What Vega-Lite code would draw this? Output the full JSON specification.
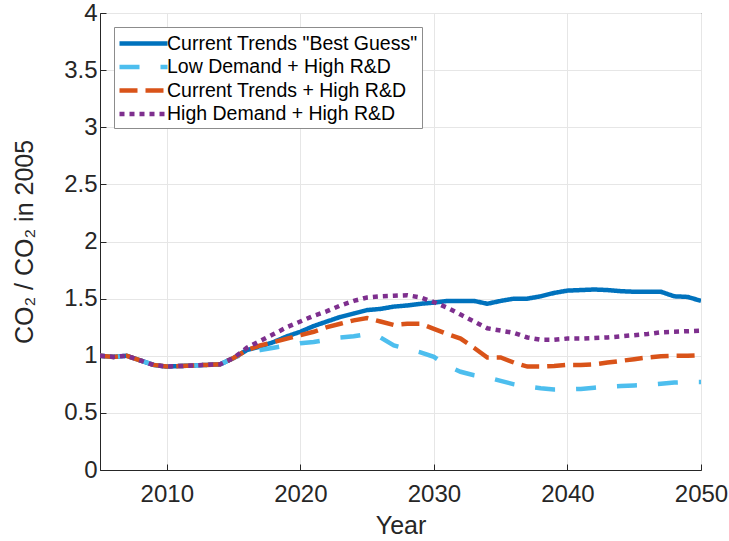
{
  "$schema": "https://vega.github.io/schema/vega-lite/v6.json",
  "width": 601,
  "height": 457,
  "autosize": {"type": "none"},
  "padding": {"left": 100, "top": 13, "right": 28, "bottom": 71},
  "background": "white",
  "config": {
    "font": "Liberation Sans",
    "view": {"stroke": "#262626", "strokeWidth": 1},
    "axis": {
      "domainColor": "#262626",
      "tickColor": "#262626",
      "gridColor": "#e6e6e6",
      "gridWidth": 1,
      "labelColor": "#262626",
      "titleColor": "#262626",
      "labelFont": "Liberation Sans",
      "titleFont": "Liberation Sans",
      "labelFontSize": 24,
      "titleFontSize": 25,
      "titleFontWeight": "normal",
      "tickSize": -6
    }
  },
  "data": {"values": [
    {"year": 2005, "s": "Current Trends \"Best Guess\"", "v": 1.00},
    {"year": 2006, "s": "Current Trends \"Best Guess\"", "v": 0.99},
    {"year": 2007, "s": "Current Trends \"Best Guess\"", "v": 1.00},
    {"year": 2008, "s": "Current Trends \"Best Guess\"", "v": 0.96},
    {"year": 2009, "s": "Current Trends \"Best Guess\"", "v": 0.92},
    {"year": 2010, "s": "Current Trends \"Best Guess\"", "v": 0.905},
    {"year": 2011, "s": "Current Trends \"Best Guess\"", "v": 0.91},
    {"year": 2012, "s": "Current Trends \"Best Guess\"", "v": 0.915},
    {"year": 2013, "s": "Current Trends \"Best Guess\"", "v": 0.92},
    {"year": 2014, "s": "Current Trends \"Best Guess\"", "v": 0.925},
    {"year": 2015, "s": "Current Trends \"Best Guess\"", "v": 0.98},
    {"year": 2016, "s": "Current Trends \"Best Guess\"", "v": 1.05},
    {"year": 2017, "s": "Current Trends \"Best Guess\"", "v": 1.08},
    {"year": 2018, "s": "Current Trends \"Best Guess\"", "v": 1.12},
    {"year": 2019, "s": "Current Trends \"Best Guess\"", "v": 1.17},
    {"year": 2020, "s": "Current Trends \"Best Guess\"", "v": 1.21},
    {"year": 2021, "s": "Current Trends \"Best Guess\"", "v": 1.26},
    {"year": 2022, "s": "Current Trends \"Best Guess\"", "v": 1.30},
    {"year": 2023, "s": "Current Trends \"Best Guess\"", "v": 1.34},
    {"year": 2024, "s": "Current Trends \"Best Guess\"", "v": 1.37},
    {"year": 2025, "s": "Current Trends \"Best Guess\"", "v": 1.40},
    {"year": 2026, "s": "Current Trends \"Best Guess\"", "v": 1.41},
    {"year": 2027, "s": "Current Trends \"Best Guess\"", "v": 1.43},
    {"year": 2028, "s": "Current Trends \"Best Guess\"", "v": 1.44},
    {"year": 2029, "s": "Current Trends \"Best Guess\"", "v": 1.455},
    {"year": 2030, "s": "Current Trends \"Best Guess\"", "v": 1.465},
    {"year": 2031, "s": "Current Trends \"Best Guess\"", "v": 1.48},
    {"year": 2032, "s": "Current Trends \"Best Guess\"", "v": 1.48},
    {"year": 2033, "s": "Current Trends \"Best Guess\"", "v": 1.48},
    {"year": 2034, "s": "Current Trends \"Best Guess\"", "v": 1.455},
    {"year": 2035, "s": "Current Trends \"Best Guess\"", "v": 1.48},
    {"year": 2036, "s": "Current Trends \"Best Guess\"", "v": 1.50},
    {"year": 2037, "s": "Current Trends \"Best Guess\"", "v": 1.50},
    {"year": 2038, "s": "Current Trends \"Best Guess\"", "v": 1.52},
    {"year": 2039, "s": "Current Trends \"Best Guess\"", "v": 1.55},
    {"year": 2040, "s": "Current Trends \"Best Guess\"", "v": 1.57},
    {"year": 2041, "s": "Current Trends \"Best Guess\"", "v": 1.575},
    {"year": 2042, "s": "Current Trends \"Best Guess\"", "v": 1.58},
    {"year": 2043, "s": "Current Trends \"Best Guess\"", "v": 1.575},
    {"year": 2044, "s": "Current Trends \"Best Guess\"", "v": 1.565},
    {"year": 2045, "s": "Current Trends \"Best Guess\"", "v": 1.56},
    {"year": 2046, "s": "Current Trends \"Best Guess\"", "v": 1.56},
    {"year": 2047, "s": "Current Trends \"Best Guess\"", "v": 1.56},
    {"year": 2048, "s": "Current Trends \"Best Guess\"", "v": 1.52},
    {"year": 2049, "s": "Current Trends \"Best Guess\"", "v": 1.515},
    {"year": 2050, "s": "Current Trends \"Best Guess\"", "v": 1.48},

    {"year": 2005, "s": "Low Demand + High R&D", "v": 1.00},
    {"year": 2006, "s": "Low Demand + High R&D", "v": 0.99},
    {"year": 2007, "s": "Low Demand + High R&D", "v": 1.00},
    {"year": 2008, "s": "Low Demand + High R&D", "v": 0.96},
    {"year": 2009, "s": "Low Demand + High R&D", "v": 0.92},
    {"year": 2010, "s": "Low Demand + High R&D", "v": 0.905},
    {"year": 2011, "s": "Low Demand + High R&D", "v": 0.91},
    {"year": 2012, "s": "Low Demand + High R&D", "v": 0.915},
    {"year": 2013, "s": "Low Demand + High R&D", "v": 0.92},
    {"year": 2014, "s": "Low Demand + High R&D", "v": 0.925},
    {"year": 2015, "s": "Low Demand + High R&D", "v": 0.98},
    {"year": 2016, "s": "Low Demand + High R&D", "v": 1.03},
    {"year": 2017, "s": "Low Demand + High R&D", "v": 1.05},
    {"year": 2018, "s": "Low Demand + High R&D", "v": 1.07},
    {"year": 2019, "s": "Low Demand + High R&D", "v": 1.09},
    {"year": 2020, "s": "Low Demand + High R&D", "v": 1.11},
    {"year": 2021, "s": "Low Demand + High R&D", "v": 1.12},
    {"year": 2022, "s": "Low Demand + High R&D", "v": 1.14},
    {"year": 2023, "s": "Low Demand + High R&D", "v": 1.16},
    {"year": 2024, "s": "Low Demand + High R&D", "v": 1.17},
    {"year": 2025, "s": "Low Demand + High R&D", "v": 1.19},
    {"year": 2026, "s": "Low Demand + High R&D", "v": 1.16},
    {"year": 2027, "s": "Low Demand + High R&D", "v": 1.09},
    {"year": 2028, "s": "Low Demand + High R&D", "v": 1.06},
    {"year": 2029, "s": "Low Demand + High R&D", "v": 1.03},
    {"year": 2030, "s": "Low Demand + High R&D", "v": 0.99},
    {"year": 2031, "s": "Low Demand + High R&D", "v": 0.91},
    {"year": 2032, "s": "Low Demand + High R&D", "v": 0.86},
    {"year": 2033, "s": "Low Demand + High R&D", "v": 0.83},
    {"year": 2034, "s": "Low Demand + High R&D", "v": 0.81},
    {"year": 2035, "s": "Low Demand + High R&D", "v": 0.78},
    {"year": 2036, "s": "Low Demand + High R&D", "v": 0.75},
    {"year": 2037, "s": "Low Demand + High R&D", "v": 0.73},
    {"year": 2038, "s": "Low Demand + High R&D", "v": 0.715},
    {"year": 2039, "s": "Low Demand + High R&D", "v": 0.705},
    {"year": 2040, "s": "Low Demand + High R&D", "v": 0.705},
    {"year": 2041, "s": "Low Demand + High R&D", "v": 0.71},
    {"year": 2042, "s": "Low Demand + High R&D", "v": 0.72},
    {"year": 2043, "s": "Low Demand + High R&D", "v": 0.73},
    {"year": 2044, "s": "Low Demand + High R&D", "v": 0.735},
    {"year": 2045, "s": "Low Demand + High R&D", "v": 0.74},
    {"year": 2046, "s": "Low Demand + High R&D", "v": 0.745},
    {"year": 2047, "s": "Low Demand + High R&D", "v": 0.755},
    {"year": 2048, "s": "Low Demand + High R&D", "v": 0.765},
    {"year": 2049, "s": "Low Demand + High R&D", "v": 0.77},
    {"year": 2050, "s": "Low Demand + High R&D", "v": 0.77},

    {"year": 2005, "s": "Current Trends + High R&D", "v": 1.00},
    {"year": 2006, "s": "Current Trends + High R&D", "v": 0.99},
    {"year": 2007, "s": "Current Trends + High R&D", "v": 1.00},
    {"year": 2008, "s": "Current Trends + High R&D", "v": 0.96},
    {"year": 2009, "s": "Current Trends + High R&D", "v": 0.92},
    {"year": 2010, "s": "Current Trends + High R&D", "v": 0.905},
    {"year": 2011, "s": "Current Trends + High R&D", "v": 0.91},
    {"year": 2012, "s": "Current Trends + High R&D", "v": 0.915},
    {"year": 2013, "s": "Current Trends + High R&D", "v": 0.92},
    {"year": 2014, "s": "Current Trends + High R&D", "v": 0.925},
    {"year": 2015, "s": "Current Trends + High R&D", "v": 0.98},
    {"year": 2016, "s": "Current Trends + High R&D", "v": 1.05},
    {"year": 2017, "s": "Current Trends + High R&D", "v": 1.09},
    {"year": 2018, "s": "Current Trends + High R&D", "v": 1.12},
    {"year": 2019, "s": "Current Trends + High R&D", "v": 1.15},
    {"year": 2020, "s": "Current Trends + High R&D", "v": 1.18},
    {"year": 2021, "s": "Current Trends + High R&D", "v": 1.21},
    {"year": 2022, "s": "Current Trends + High R&D", "v": 1.25},
    {"year": 2023, "s": "Current Trends + High R&D", "v": 1.28},
    {"year": 2024, "s": "Current Trends + High R&D", "v": 1.31},
    {"year": 2025, "s": "Current Trends + High R&D", "v": 1.33},
    {"year": 2026, "s": "Current Trends + High R&D", "v": 1.30},
    {"year": 2027, "s": "Current Trends + High R&D", "v": 1.27},
    {"year": 2028, "s": "Current Trends + High R&D", "v": 1.28},
    {"year": 2029, "s": "Current Trends + High R&D", "v": 1.28},
    {"year": 2030, "s": "Current Trends + High R&D", "v": 1.235},
    {"year": 2031, "s": "Current Trends + High R&D", "v": 1.19},
    {"year": 2032, "s": "Current Trends + High R&D", "v": 1.15},
    {"year": 2033, "s": "Current Trends + High R&D", "v": 1.07},
    {"year": 2034, "s": "Current Trends + High R&D", "v": 0.985},
    {"year": 2035, "s": "Current Trends + High R&D", "v": 0.985},
    {"year": 2036, "s": "Current Trends + High R&D", "v": 0.94},
    {"year": 2037, "s": "Current Trends + High R&D", "v": 0.905},
    {"year": 2038, "s": "Current Trends + High R&D", "v": 0.905},
    {"year": 2039, "s": "Current Trends + High R&D", "v": 0.91},
    {"year": 2040, "s": "Current Trends + High R&D", "v": 0.92},
    {"year": 2041, "s": "Current Trends + High R&D", "v": 0.92},
    {"year": 2042, "s": "Current Trends + High R&D", "v": 0.925},
    {"year": 2043, "s": "Current Trends + High R&D", "v": 0.94},
    {"year": 2044, "s": "Current Trends + High R&D", "v": 0.955},
    {"year": 2045, "s": "Current Trends + High R&D", "v": 0.97},
    {"year": 2046, "s": "Current Trends + High R&D", "v": 0.985},
    {"year": 2047, "s": "Current Trends + High R&D", "v": 0.995},
    {"year": 2048, "s": "Current Trends + High R&D", "v": 1.0},
    {"year": 2049, "s": "Current Trends + High R&D", "v": 1.0},
    {"year": 2050, "s": "Current Trends + High R&D", "v": 1.005},

    {"year": 2005, "s": "High Demand + High R&D", "v": 1.00},
    {"year": 2006, "s": "High Demand + High R&D", "v": 0.99},
    {"year": 2007, "s": "High Demand + High R&D", "v": 1.00},
    {"year": 2008, "s": "High Demand + High R&D", "v": 0.96},
    {"year": 2009, "s": "High Demand + High R&D", "v": 0.92},
    {"year": 2010, "s": "High Demand + High R&D", "v": 0.905},
    {"year": 2011, "s": "High Demand + High R&D", "v": 0.91},
    {"year": 2012, "s": "High Demand + High R&D", "v": 0.915},
    {"year": 2013, "s": "High Demand + High R&D", "v": 0.92},
    {"year": 2014, "s": "High Demand + High R&D", "v": 0.925},
    {"year": 2015, "s": "High Demand + High R&D", "v": 0.98},
    {"year": 2016, "s": "High Demand + High R&D", "v": 1.07},
    {"year": 2017, "s": "High Demand + High R&D", "v": 1.13},
    {"year": 2018, "s": "High Demand + High R&D", "v": 1.19},
    {"year": 2019, "s": "High Demand + High R&D", "v": 1.25},
    {"year": 2020, "s": "High Demand + High R&D", "v": 1.30},
    {"year": 2021, "s": "High Demand + High R&D", "v": 1.35},
    {"year": 2022, "s": "High Demand + High R&D", "v": 1.39},
    {"year": 2023, "s": "High Demand + High R&D", "v": 1.44},
    {"year": 2024, "s": "High Demand + High R&D", "v": 1.48},
    {"year": 2025, "s": "High Demand + High R&D", "v": 1.51},
    {"year": 2026, "s": "High Demand + High R&D", "v": 1.52},
    {"year": 2027, "s": "High Demand + High R&D", "v": 1.525},
    {"year": 2028, "s": "High Demand + High R&D", "v": 1.53},
    {"year": 2029, "s": "High Demand + High R&D", "v": 1.51},
    {"year": 2030, "s": "High Demand + High R&D", "v": 1.47},
    {"year": 2031, "s": "High Demand + High R&D", "v": 1.42},
    {"year": 2032, "s": "High Demand + High R&D", "v": 1.36},
    {"year": 2033, "s": "High Demand + High R&D", "v": 1.30},
    {"year": 2034, "s": "High Demand + High R&D", "v": 1.24},
    {"year": 2035, "s": "High Demand + High R&D", "v": 1.22},
    {"year": 2036, "s": "High Demand + High R&D", "v": 1.20},
    {"year": 2037, "s": "High Demand + High R&D", "v": 1.16},
    {"year": 2038, "s": "High Demand + High R&D", "v": 1.14},
    {"year": 2039, "s": "High Demand + High R&D", "v": 1.14},
    {"year": 2040, "s": "High Demand + High R&D", "v": 1.15},
    {"year": 2041, "s": "High Demand + High R&D", "v": 1.15},
    {"year": 2042, "s": "High Demand + High R&D", "v": 1.155},
    {"year": 2043, "s": "High Demand + High R&D", "v": 1.16},
    {"year": 2044, "s": "High Demand + High R&D", "v": 1.17},
    {"year": 2045, "s": "High Demand + High R&D", "v": 1.18},
    {"year": 2046, "s": "High Demand + High R&D", "v": 1.19},
    {"year": 2047, "s": "High Demand + High R&D", "v": 1.205},
    {"year": 2048, "s": "High Demand + High R&D", "v": 1.21},
    {"year": 2049, "s": "High Demand + High R&D", "v": 1.215},
    {"year": 2050, "s": "High Demand + High R&D", "v": 1.22}
  ]},
  "mark": {"type": "line", "strokeWidth": 4.5, "strokeCap": "butt", "clip": true},
  "encoding": {
    "x": {
      "field": "year", "type": "quantitative",
      "scale": {"domain": [2005, 2050], "nice": false, "zero": false},
      "axis": {"values": [2010, 2020, 2030, 2040, 2050], "format": "d", "title": "Year", "labelPadding": 18, "titlePadding": 7, "labelFlush": false}
    },
    "y": {
      "field": "v", "type": "quantitative",
      "scale": {"domain": [0, 4], "nice": false},
      "axis": {"values": [0, 0.5, 1, 1.5, 2, 2.5, 3, 3.5, 4], "format": ".1~f", "title": "CO₂ / CO₂ in 2005", "labelPadding": 9, "titlePadding": 26, "titleFontSize": 25}
    },
    "color": {
      "field": "s", "type": "nominal",
      "scale": {
        "domain": ["Current Trends \"Best Guess\"", "Low Demand + High R&D", "Current Trends + High R&D", "High Demand + High R&D"],
        "range": ["#0072BD", "#4DBEEE", "#D95319", "#7E2F8E"]
      },
      "legend": {
        "title": null,
        "orient": "top-left",
        "offset": 14,
        "fillColor": "white",
        "strokeColor": "#8c8c8c",
        "padding": 4,
        "rowPadding": 1.5,
        "labelFontSize": 19.5,
        "labelFont": "Liberation Sans",
        "labelColor": "#000000",
        "labelOffset": 11,
        "labelLimit": 400,
        "symbolType": "M-2.4,0H2.4",
        "symbolSize": 400,
        "symbolOffset": 13,
        "symbolStrokeWidth": 4.5,
        "symbolFillColor": "transparent"
      }
    },
    "strokeDash": {
      "field": "s", "type": "nominal",
      "scale": {
        "domain": ["Current Trends \"Best Guess\"", "Low Demand + High R&D", "Current Trends + High R&D", "High Demand + High R&D"],
        "range": [[1, 0], [20, 21], [18, 8], [5, 5]]
      },
      "legend": null
    },
    "order": {"field": "year", "type": "quantitative"}
  }
}
